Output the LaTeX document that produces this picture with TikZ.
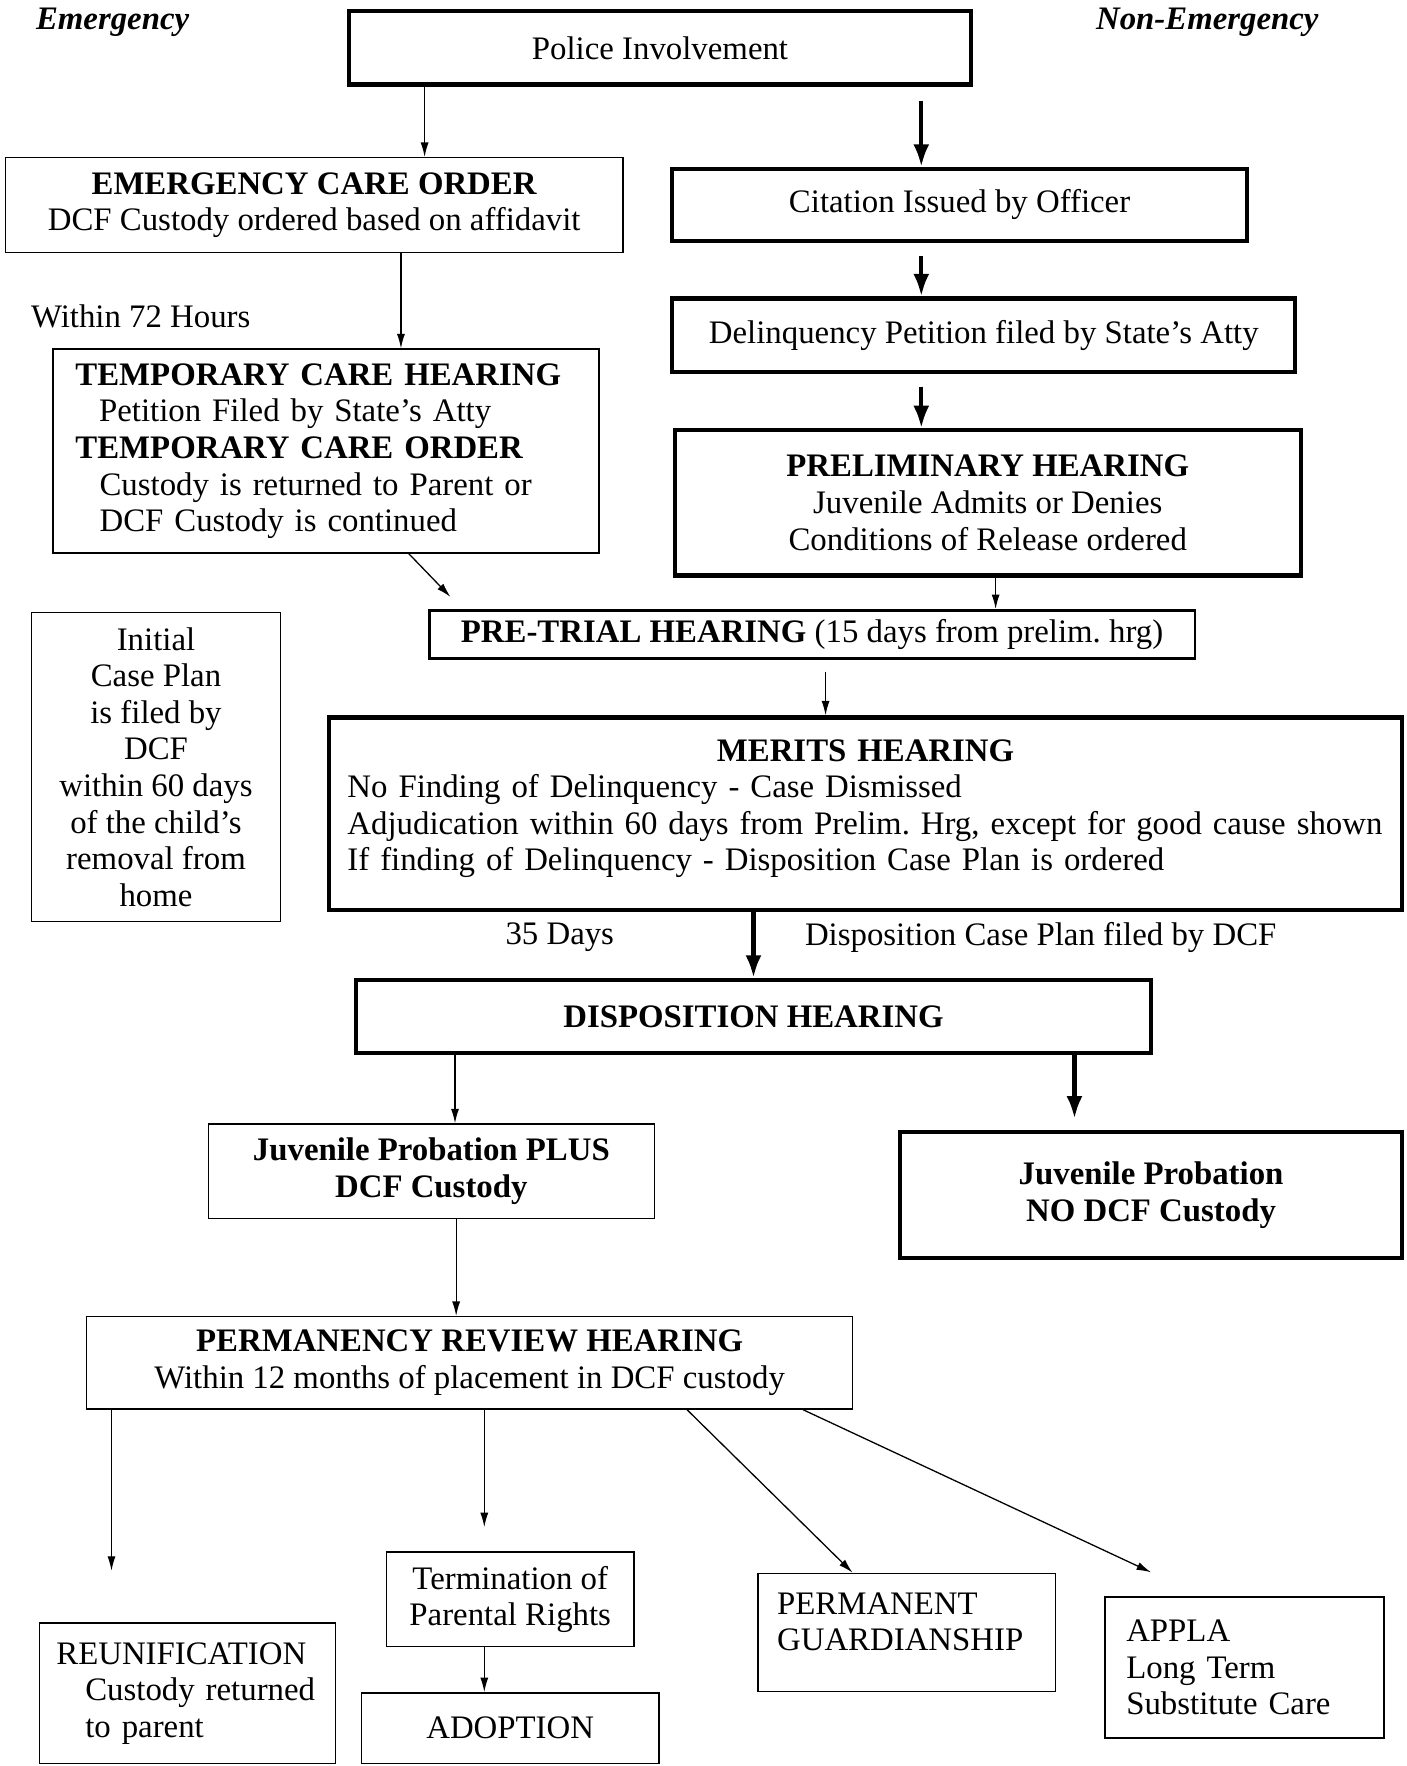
\documentclass[tikz,border=0pt]{standalone}
\usepackage{fontspec}
\setmainfont{Liberation Serif}
\usetikzlibrary{arrows.meta}
\tikzset{
	box/.style={draw,line width=0.9pt,inner sep=0pt,align=center},
	heavybox/.style={box,line width=2.6pt},
	midbox/.style={box,line width=1.8pt},
	thinarr/.style={-{Latex[length=9pt,width=5pt]},line width=0.8pt},
	heavyarr/.style={-{Latex[length=14pt,width=10pt]},line width=2.6pt},
}
\begin{document}
\frenchspacing
\begin{tikzpicture}[x=0.7pt,y=-0.7pt,font=\fontsize{20.4}{22.75}\selectfont]
	\fill[white] (0,0) rectangle (1249,1568);
	\useasboundingbox (0,0) rectangle (1249,1568);
	\node (emerg) at (100,20) {\textbf{\textit{Emergency}}};
	\node (nonemerg) at (1072,20) {\textbf{\textit{Non-Emergency}}};
	\node[heavybox,minimum width=386.4pt,minimum height=45.5pt] (police) at (586,42.5) {Police Involvement};
	\node[box,minimum width=383.6pt,minimum height=58.8pt] (eco) at (279,182) {\textbf{EMERGENCY CARE ORDER}\\DCF Custody ordered based on affidavit};
	\node[heavybox,minimum width=357pt,minimum height=44.8pt] (cit) at (852,182) {Citation Issued by Officer};
	\node (h72) at (125,281) {Within 72 Hours};
	\node[heavybox,minimum width=387.1pt,minimum height=45.5pt] (delq) at (873.5,297.5) {Delinquency Petition filed by State's Atty};
	\node[box,minimum width=339.5pt,minimum height=126.7pt,align=left,text width=311.5pt] (tch) at (289.5,400.5) {\textbf{TEMPORARY CARE HEARING}\\
		\hspace*{14.7pt}Petition Filed by State's Atty\\
		\textbf{TEMPORARY CARE ORDER}\\
		\hspace*{15pt}Custody is returned to Parent or\\
		\hspace*{15pt}DCF Custody is continued};
	\node[heavybox,minimum width=389.2pt,minimum height=90.3pt] (prelim) at (877,446.5) {\textbf{PRELIMINARY HEARING}\\Juvenile Admits or Denies\\Conditions of Release ordered};
	\node[midbox,minimum width=476pt,minimum height=30.1pt] (pretrial) at (721,563.5) {\textbf{PRE-TRIAL HEARING} (15 days from prelim. hrg)};
	\node[box,minimum width=154.7pt,minimum height=191.8pt] (plan) at (138.5,681) {Initial\\Case Plan\\is filed by\\DCF\\within 60 days\\of the child's\\removal from\\home};
	\node[heavybox,minimum width=667.1pt,minimum height=119.7pt,align=left,text width=644pt] (merits) at (768.5,722.5) {\makebox[644pt]{\textbf{MERITS HEARING}}\\
		No Finding of Delinquency - Case Dismissed\\
		Adjudication within 60 days from Prelim. Hrg, except for good cause shown\\
		If finding of Delinquency - Disposition Case Plan is ordered\\[-12pt]\mbox{}};
	\node (d35) at (497,832) {35 Days};
	\node (dcp) at (924,832) {Disposition Case Plan filed by DCF};
	\node[heavybox,minimum width=494.2pt,minimum height=45.5pt] (disp) at (669,902.5) {\textbf{DISPOSITION HEARING}};
	\node[box,minimum width=277.2pt,minimum height=58.8pt] (jpplus) at (383,1040) {\textbf{Juvenile Probation PLUS}\\\textbf{DCF Custody}};
	\node[heavybox,minimum width=312.2pt,minimum height=78.4pt] (jpno) at (1022,1061) {\textbf{Juvenile Probation}\\\textbf{NO DCF Custody}};
	\node[box,minimum width=476pt,minimum height=57.4pt] (prh) at (417,1210) {\textbf{PERMANENCY REVIEW HEARING}\\Within 12 months of placement in DCF custody};
	\node[box,minimum width=184.1pt,minimum height=87.5pt,align=left,text width=163pt] (reun) at (166.5,1503.5) {REUNIFICATION\\
		\hspace*{18pt}Custody returned\\
		\hspace*{18pt}to parent};
	\node[box,minimum width=154pt,minimum height=58.8pt] (term) at (453,1420) {Termination of\\Parental Rights};
	\node[box,minimum width=184.8pt,minimum height=44.1pt] (adopt) at (453,1534.5) {ADOPTION};
	\node[box,minimum width=184.8pt,minimum height=73.5pt,align=left,text width=161pt] (pg) at (805,1449.5) {PERMANENT\\GUARDIANSHIP\\[-9pt]\mbox{}};
	\node[box,minimum width=173.6pt,minimum height=87.5pt,align=left,text width=147pt] (appla) at (1105,1480.5) {APPLA\\Long Term\\Substitute Care};
	\coordinate (ptin) at (400,530);
	\coordinate (applain) at (1022,1396);
	\draw[thinarr] (377,0 |- police.south) -- (377,0 |- eco.north);
	\draw[heavyarr,shorten <=9pt] (818,0 |- police.south) -- (818,0 |- cit.north);
	\draw[thinarr] (356,0 |- eco.south) -- (356,0 |- tch.north);
	\draw[heavyarr,shorten <=8pt] (818,0 |- cit.south) -- (818,0 |- delq.north);
	\draw[heavyarr,shorten <=8pt] (818,0 |- delq.south) -- (818,0 |- prelim.north);
	\draw[thinarr] (363,0 |- tch.south) -- (ptin);
	\draw[thinarr] (884,0 |- prelim.south) -- (884,0 |- pretrial.north);
	\draw[thinarr,shorten <=7pt] (733,0 |- pretrial.south) -- (733,0 |- merits.north);
	\draw[heavyarr] (669,0 |- merits.south) -- (669,0 |- disp.north);
	\draw[thinarr] (404,0 |- disp.south) -- (404,0 |- jpplus.north);
	\draw[heavyarr,shorten >=7pt] (954,0 |- disp.south) -- (954,0 |- jpno.north);
	\draw[thinarr] (405,0 |- jpplus.south) -- (405,0 |- prh.north);
	\draw[thinarr,shorten >=32pt] (99,0 |- prh.south) -- (99,0 |- reun.north);
	\draw[thinarr,shorten >=15pt] (430,0 |- prh.south) -- (430,0 |- term.north);
	\draw[thinarr] (610,0 |- prh.south) -- (757,0 |- pg.north);
	\draw[thinarr] (713,0 |- prh.south) -- (applain);
	\draw[thinarr] (430,0 |- term.south) -- (430,0 |- adopt.north);
\end{tikzpicture}
\end{document}
